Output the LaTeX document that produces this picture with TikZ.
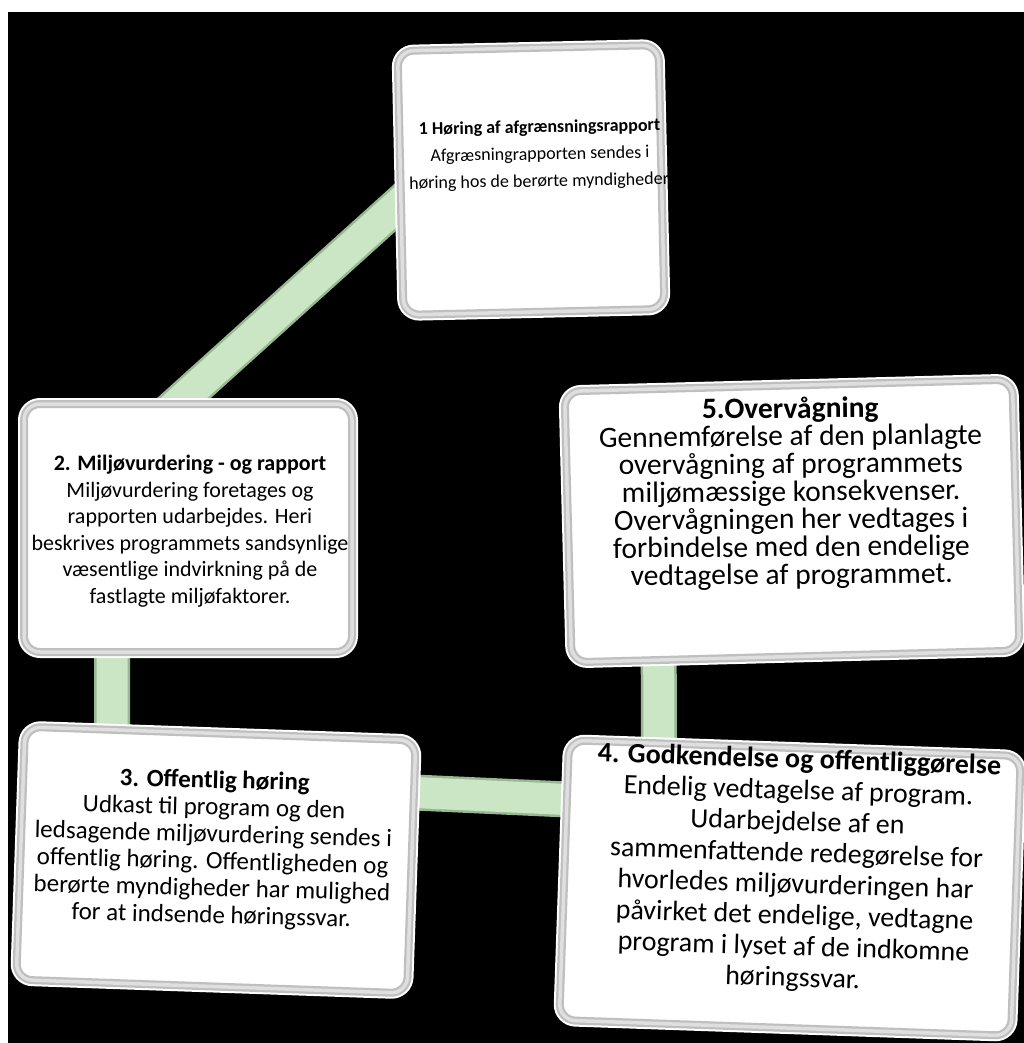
\documentclass[tikz,border=0pt]{standalone}
\usepackage{fontspec}
\setmainfont{Carlito}
\usetikzlibrary{calc}
\pgfdeclarelayer{bg}
\pgfsetlayers{bg,main}
\definecolor{connfill}{HTML}{CBE6C4}
\definecolor{connedge}{HTML}{98B893}
\begin{document}
\begin{tikzpicture}[x=1pt,y=-1pt,
  box/.style={rectangle, rounded corners=16pt, fill=white, draw=gray!50, line width=8pt, inner sep=0pt,
    preaction={draw=white, line width=12pt},
    postaction={draw=gray!25, line width=3.5pt}},
  txt/.style={align=center, inner sep=0pt, text=black},
  conn/.style={line width=36pt, draw=connedge, postaction={draw=connfill, line width=31pt}}]
\useasboundingbox (0,0) rectangle (1024,1043);
\begin{pgfonlayer}{bg}
\fill[white] (0,0) rectangle (1024,1043);
\fill[black] (8,12) rectangle (1024,1043);
\end{pgfonlayer}

% boxes
\node[box, minimum width=261pt, minimum height=264pt, rotate=1.3] (b1) at (531,180) {};
\node[box, minimum width=328pt, minimum height=248pt] (b2) at (188,528) {};
\node[box, minimum width=391pt, minimum height=253pt, rotate=-2] (b3) at (216,860) {};
\node[box, minimum width=452pt, minimum height=280pt, rotate=-2] (b4) at (790,888) {};
\node[box, minimum width=448pt, minimum height=271pt, rotate=1.5] (b5) at (792,521) {};

% texts
\node[txt, font={\fontsize{18}{27}\selectfont}, rotate=1] (t1) at (540,155)
  {\textbf{1 Høring af afgrænsningsrapport}\\Afgræsningrapporten sendes i\\høring hos de berørte myndigheder.};
\node[txt, font={\fontsize{22}{26.5}\selectfont}] (t2) at (190,531)
  {\textbf{2. Miljøvurdering - og rapport}\\Miljøvurdering foretages og\\rapporten udarbejdes. Heri\\beskrives programmets sandsynlige\\væsentlige indvirkning på de\\fastlagte miljøfaktorer.};
\node[txt, font={\fontsize{25}{27}\selectfont}, rotate=-1.5] (t3) at (213,849)
  {\textbf{3. Offentlig høring}\\Udkast til program og den\\ledsagende miljøvurdering sendes i\\offentlig høring. Offentligheden og\\berørte myndigheder har mulighed\\for at indsende høringssvar.};
\node[txt, font={\fontsize{28}{31.2}\selectfont}, rotate=-1.8] (t4) at (796,870)
  {\textbf{4. Godkendelse og offentliggørelse}\\Endelig vedtagelse af program.\\Udarbejdelse af en\\sammenfattende redegørelse for\\hvorledes miljøvurderingen har\\påvirket det endelige, vedtagne\\program i lyset af de indkomne\\høringssvar.};
\node[txt, font={\fontsize{29.5}{27.7}\selectfont}, rotate=0.5] (t5) at (791,493)
  {\textbf{5.Overvågning}\\Gennemførelse af den planlagte\\overvågning af programmets\\miljømæssige konsekvenser.\\Overvågningen her vedtages i\\forbindelse med den endelige\\vedtagelse af programmet.};

% connectors
\begin{pgfonlayer}{bg}
\draw[conn] ($(b1.west)+(19,6)$) -- ($(b2.north west)+(144,16)$);
\draw[conn] ($(b2.south west)+(92,-13)$) -- ($(b3.north west)+(91,24)$);
\draw[conn] ($(b3.east)+(-12,-75)$) -- ($(b4.west)+(17,-80)$);
\draw[conn] ($(b5.south)+(-137,-12)$) -- ($(b4.north)+(-136,13)$);
\end{pgfonlayer}
\end{tikzpicture}
\end{document}
